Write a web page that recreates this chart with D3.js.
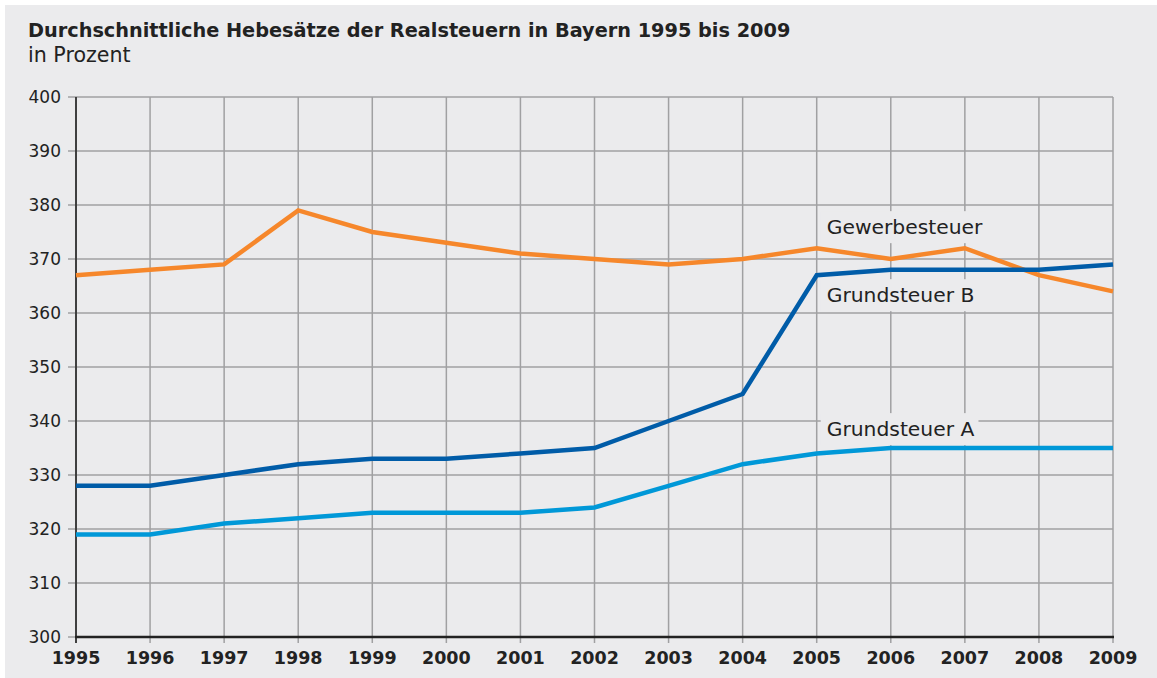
<!DOCTYPE html>
<html><head><meta charset="utf-8">
<script src="https://cdn.jsdelivr.net/npm/d3@7"></script>
<style>body{margin:0;background:#fff}svg{display:block}text{font-family:"DejaVu Sans",sans-serif}</style>
</head><body>
<svg id="c" width="1157" height="678"></svg>
<script>
const years = [1995,1996,1997,1998,1999,2000,2001,2002,2003,2004,2005,2006,2007,2008,2009];
const gewerbesteuer = [367,368,369,379,375,373,371,370,369,370,372,370,372,367,364];
const grundsteuerB = [328,328,330,332,333,333,334,335,340,345,367,368,368,368,369];
const grundsteuerA = [319,319,321,322,323,323,323,324,328,332,334,335,335,335,335];
const yTicks = [300,310,320,330,340,350,360,370,380,390,400];
const seriesNames = ["Gewerbesteuer","Grundsteuer B","Grundsteuer A"];
const labelAnchors = [{year:2005,value:374.6},{year:2005,value:362},{year:2005,value:337.2}];
const colors = ["#f6872b","#005ca8","#0098d8"];

const svg = d3.select("#c");
svg.append("rect").attr("x",5).attr("y",5).attr("width",1152).attr("height",673).attr("fill","#ebebed");

const x = d3.scaleLinear().domain([1995,2009]).range([76,1113]);
const y = d3.scaleLinear().domain([300,400]).range([637,97]);

// grid
const grid = svg.append("g").attr("stroke","#a0a0a2").attr("stroke-width",1.5);
grid.selectAll("line.h").data(yTicks).join("line")
  .attr("x1",68).attr("x2",x(2009)).attr("y1",d=>y(d)).attr("y2",d=>y(d));
grid.selectAll("line.v").data(years).join("line")
  .attr("x1",d=>x(d)).attr("x2",d=>x(d)).attr("y1",y(400)).attr("y2",y(300)+6);

// series labels with background boxes
const lab = svg.append("g");
const allSeries = [gewerbesteuer,grundsteuerB,grundsteuerA];
seriesNames.forEach((n,i)=>{
  const t = lab.append("text").attr("x",x(labelAnchors[i].year)+10).attr("y",y(labelAnchors[i].value))
    .attr("font-size",20.3).attr("fill","#222").text(n);
  const bb = t.node().getBBox();
  lab.insert("rect","text").attr("x",bb.x-6).attr("y",bb.y-4).attr("width",bb.width+10).attr("height",bb.height+8).attr("fill","#ebebed");
});

// axes
svg.append("line").attr("x1",x(1995)).attr("x2",x(1995)).attr("y1",y(400)).attr("y2",y(300)+6).attr("stroke","#333").attr("stroke-width",1.8);
svg.append("line").attr("x1",x(1995)-1).attr("x2",x(2009)+1).attr("y1",y(300)).attr("y2",y(300)).attr("stroke","#222").attr("stroke-width",2.5);

// lines
const line = d3.line().x((d,i)=>x(years[i])).y(d=>y(d));
allSeries.forEach((s,i)=>{
  svg.append("path").datum(s).attr("d",line).attr("fill","none").attr("stroke",colors[i]).attr("stroke-width",4.5).attr("stroke-linejoin","miter");
});

// tick labels
svg.append("g").selectAll("text").data(yTicks).join("text")
  .attr("x",61).attr("y",d=>y(d)+6).attr("text-anchor","end").attr("font-size",17).attr("fill","#222").text(d=>d);
svg.append("g").selectAll("text").data(years).join("text")
  .attr("x",d=>x(d)).attr("y",664).attr("text-anchor","middle").attr("font-size",17.5).attr("font-weight","bold").attr("fill","#222").text(d=>d);

// title
svg.append("text").attr("x",28).attr("y",37).attr("font-size",19.3).attr("font-weight","bold").attr("fill","#222")
  .text("Durchschnittliche Hebesätze der Realsteuern in Bayern 1995 bis 2009");
svg.append("text").attr("x",28).attr("y",62).attr("font-size",20.6).attr("fill","#222").text("in Prozent");
</script>
</body></html>
